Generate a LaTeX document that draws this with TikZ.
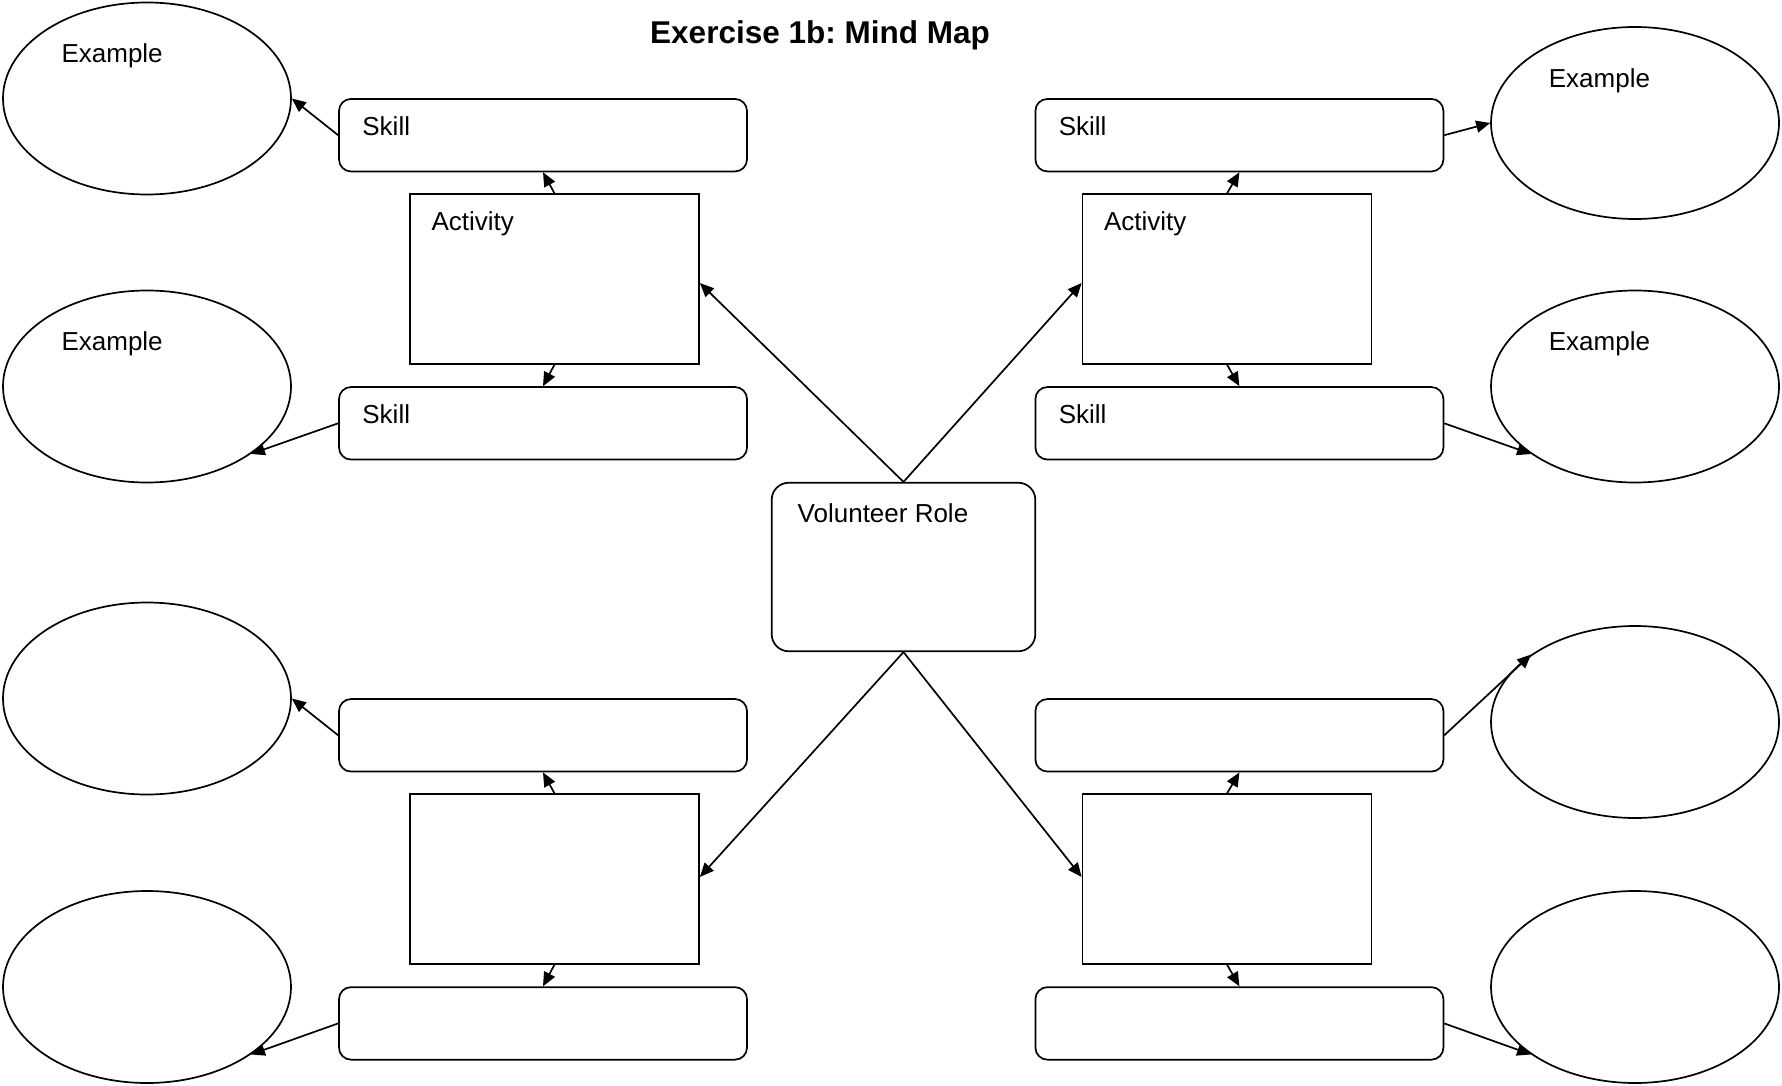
\documentclass[tikz,border=0pt]{standalone}
\usepackage{fontspec}
\setmainfont{Liberation Sans}
\usetikzlibrary{shapes.geometric,arrows.meta}
\frenchspacing
\begin{document}
\begin{tikzpicture}[x=1pt,y=-1pt,
  every node/.style={line width=1.7pt},
  oval/.style={draw,ellipse,minimum width=288pt,minimum height=192pt,inner sep=0pt},
  skillbox/.style={draw,rectangle,rounded corners=12pt,minimum width=408pt,minimum height=72.5pt,inner sep=0pt},
  actbox/.style={draw,rectangle,minimum width=289pt,minimum height=169.5pt,inner sep=0pt},
  rolebox/.style={draw,rectangle,rounded corners=17pt,minimum width=263.6pt,minimum height=168.5pt,inner sep=0pt},
  txt/.style={draw=none,inner sep=0pt,anchor=base west,font=\fontsize{26}{30}\selectfont},
  arr/.style={line width=1.7pt,-{Triangle[length=14pt,width=12pt]}},
  conn/.style={line width=1.7pt}]
\useasboundingbox[fill=white] (0,0) rectangle (1782,1086);

\node[draw=none,inner sep=0pt,anchor=base,font=\fontsize{31.5}{36}\selectfont\bfseries] (title) at (820,43.5) {Exercise 1b: Mind Map};

% ellipses
\node[oval] (eL1) at (147,98.5) {};
\node[oval] (eL2) at (147,386.5) {};
\node[oval] (eL3) at (147,698.5) {};
\node[oval] (eL4) at (147,987) {};
\node[oval] (eR1) at (1635,123) {};
\node[oval] (eR2) at (1635,386.5) {};
\node[oval] (eR3) at (1635,722) {};
\node[oval] (eR4) at (1635,987) {};

\node[txt] (tL1) at ([xshift=-86.3pt,yshift=35.8pt]eL1.center) {Example};
\node[txt] (tL2) at ([xshift=-86.3pt,yshift=35.8pt]eL2.center) {Example};
\node[txt] (tR1) at ([xshift=-87pt,yshift=35.8pt]eR1.center) {Example};
\node[txt] (tR2) at ([xshift=-87pt,yshift=35.8pt]eR2.center) {Example};

% skill boxes
\node[skillbox] (sL1) at (543,135.2) {};
\node[skillbox] (sL2) at (543,423.3) {};
\node[skillbox] (sL3) at (543,735.3) {};
\node[skillbox] (sL4) at (543,1023.4) {};
\node[skillbox] (sR1) at (1239.4,135.2) {};
\node[skillbox] (sR2) at (1239.4,423.3) {};
\node[skillbox] (sR3) at (1239.4,735.3) {};
\node[skillbox] (sR4) at (1239.4,1023.4) {};

\node[txt] (ksL1) at ([xshift=23.4pt,yshift=-37pt]sL1.north west) {Skill};
\node[txt] (ksL2) at ([xshift=23.4pt,yshift=-37pt]sL2.north west) {Skill};
\node[txt] (ksR1) at ([xshift=23.4pt,yshift=-37pt]sR1.north west) {Skill};
\node[txt] (ksR2) at ([xshift=23.4pt,yshift=-37pt]sR2.north west) {Skill};

% activity boxes
\node[actbox] (aL1) at (554.5,279) {};
\node[actbox] (aL2) at (554.5,879) {};
\node[actbox] (aR1) at (1227,279) {};
\node[actbox] (aR2) at (1227,879) {};

\node[txt] (kaL1) at ([xshift=21.6pt,yshift=-36.7pt]aL1.north west) {Activity};
\node[txt] (kaR1) at ([xshift=21.6pt,yshift=-36.7pt]aR1.north west) {Activity};

% volunteer role
\node[rolebox] (vr) at (903.5,567) {};
\node[txt] (kvr) at ([xshift=26pt,yshift=-40.6pt]vr.north west) {Volunteer Role};

% role -> activities
\draw[arr] (vr.north) -- ([yshift=-4pt]aL1.east);
\draw[arr] (vr.north) -- ([yshift=-4pt]aR1.west);
\draw[arr] (vr.south) -- ([yshift=2pt]aL2.east);
\draw[arr] (vr.south) -- ([yshift=2pt]aR2.west);

% activities -> skills
\draw[arr] (aL1.north) -- (sL1.south);
\draw[arr] (aL1.south) -- (sL2.north);
\draw[arr] (aR1.north) -- (sR1.south);
\draw[arr] (aR1.south) -- (sR2.north);
\draw[arr] (aL2.north) -- (sL3.south);
\draw[arr] (aL2.south) -- (sL4.north);
\draw[arr] (aR2.north) -- (sR3.south);
\draw[arr] (aR2.south) -- (sR4.north);

% skills -> examples
\draw[arr] (sL1.west) -- (eL1.east);
\draw[arr] (sL2.west) -- (eL2.-33);
\draw[arr] (sL3.west) -- (eL3.east);
\draw[arr] (sL4.west) -- (eL4.-33);
\draw[arr] (sR1.east) -- (eR1.west);
\draw[arr] (sR2.east) -- (eR2.213);
\draw[arr] (sR3.east) -- (eR3.147);
\draw[arr] (sR4.east) -- (eR4.213);
\end{tikzpicture}
\end{document}
